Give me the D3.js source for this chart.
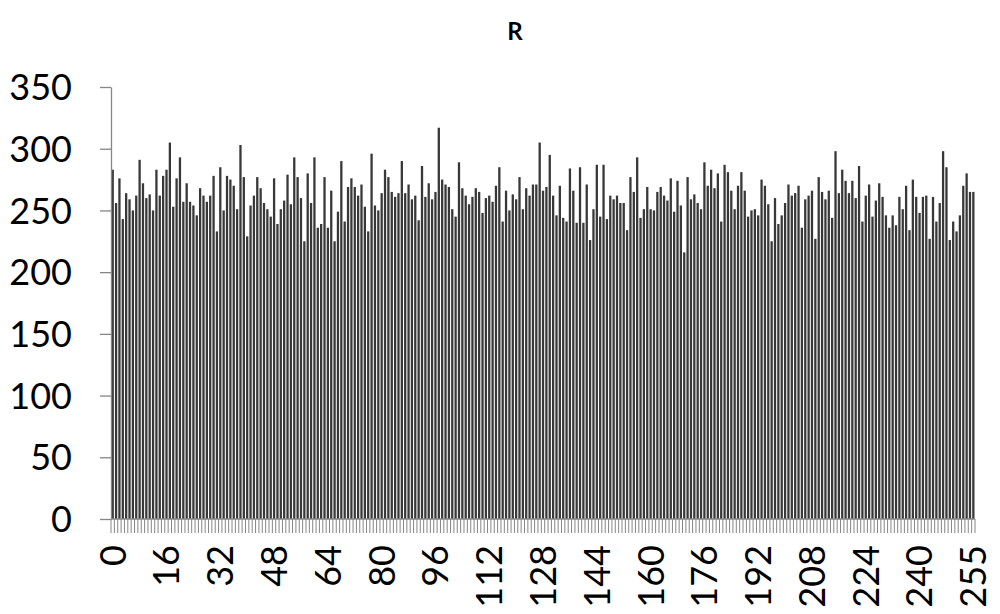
<!DOCTYPE html>
<html>
<head>
<meta charset="utf-8">
<script src="https://cdn.jsdelivr.net/npm/d3@7"></script>
<style>
  body { margin: 0; background: #fff; }
  svg text { font-family: Lato, "Open Sans", sans-serif; fill: #000; }
</style>
</head>
<body>
<div id="chart"></div>
<script>
// histogram counts, one per category
var counts = [
  283,256,276,243,264,259,250,262,291,272,260,263,250,283,262,278,
  283,305,253,276,293,257,272,257,254,246,268,262,257,262,278,233,
  285,250,278,275,270,251,303,277,229,254,262,277,268,256,251,245,
  276,239,251,258,279,255,293,277,260,225,280,256,293,236,239,277,
  236,266,225,249,290,241,269,276,269,262,271,253,233,296,254,250,
  264,283,277,265,261,264,290,264,271,259,262,242,286,261,272,259,
  265,317,275,271,269,251,245,289,268,262,255,261,268,265,248,260,
  262,257,270,285,241,266,250,263,259,277,251,268,262,271,271,305,
  266,269,295,262,246,270,244,241,284,266,240,285,240,271,226,251,
  287,245,287,243,262,259,262,256,256,234,277,265,293,244,251,269,
  251,250,265,269,262,258,276,249,274,254,216,277,259,263,256,251,
  289,270,283,268,280,241,287,281,266,251,270,281,266,245,250,251,
  246,275,270,255,225,260,239,246,256,271,262,264,270,236,259,262,
  266,227,277,265,259,266,244,298,264,283,274,264,274,260,286,241,
  262,271,245,258,272,261,246,236,246,238,261,251,270,234,275,261,
  248,261,262,227,261,241,256,298,285,226,241,233,246,270,280,265,
  265
];
var categories = counts.map(function(d, i) { return i; });
// which categories carry a label, and the label shown
var tickPos  = [0, 16, 32, 48, 64, 80, 96, 112, 128, 144, 160, 176, 192, 208, 224, 240, 256];
var tickText = ['0','16','32','48','64','80','96','112','128','144','160','176','192','208','224','240','255'];
var yTicks = [0, 50, 100, 150, 200, 250, 300, 350];
var title = 'R';

var width = 1000, height = 614;
var plotLeft = 111, plotRight = 975, plotTop = 87, plotBottom = 519;
var axisColor = '#868686';

var svg = d3.select('#chart').append('svg')
  .attr('width', width)
  .attr('height', height);

var x = d3.scaleBand().domain(categories).range([plotLeft, plotRight]).padding(0);
var y = d3.scaleLinear().domain([0, 350]).range([plotBottom, plotTop]);
var bw = x.bandwidth();

// bars
svg.append('g')
  .selectAll('rect')
  .data(counts)
  .enter()
  .append('rect')
    .attr('x', function(d, i) { return x(i) + bw * 0.17; })
    .attr('y', function(d) { return y(d); })
    .attr('width', bw * 0.68)
    .attr('height', function(d) { return y(0) - y(d); })
    .attr('fill', '#383838');

// y axis
var yAxis = svg.append('g')
  .attr('transform', 'translate(' + plotLeft + ',0)')
  .call(d3.axisLeft(y).tickValues(yTicks).tickSize(11).tickSizeOuter(0).tickPadding(28));
yAxis.selectAll('path, line').attr('stroke', axisColor).attr('stroke-width', 1.3);
yAxis.selectAll('text')
  .style('font-size', '36px')
  .attr('dy', '0.35em');

// x axis line + tick marks on every category boundary
var xg = svg.append('g');
xg.append('line')
  .attr('x1', plotLeft).attr('x2', plotRight)
  .attr('y1', plotBottom).attr('y2', plotBottom)
  .attr('stroke', axisColor).attr('stroke-width', 1.3);
xg.selectAll('line.tk')
  .data(categories.concat([categories.length]))
  .enter()
  .append('line')
    .attr('class', 'tk')
    .attr('x1', function(d) { return d < categories.length ? x(d) : plotRight; })
    .attr('x2', function(d) { return d < categories.length ? x(d) : plotRight; })
    .attr('y1', plotBottom)
    .attr('y2', plotBottom + 14)
    .attr('stroke', axisColor)
    .attr('stroke-width', 1);

// x labels, rotated
xg.selectAll('text')
  .data(tickPos)
  .enter()
  .append('text')
    .attr('transform', function(d) {
      return 'translate(' + (x(d) + bw / 2) + ',' + (plotBottom + 26) + ') rotate(-90)';
    })
    .attr('text-anchor', 'end')
    .attr('dy', '0.36em')
    .style('font-size', '36px')
    .text(function(d, i) { return tickText[i]; });

// title
svg.append('text')
  .attr('x', 515)
  .attr('y', 40)
  .attr('text-anchor', 'middle')
  .style('font-size', '24px')
  .style('font-weight', 'bold')
  .text(title);
</script>
</body>
</html>
